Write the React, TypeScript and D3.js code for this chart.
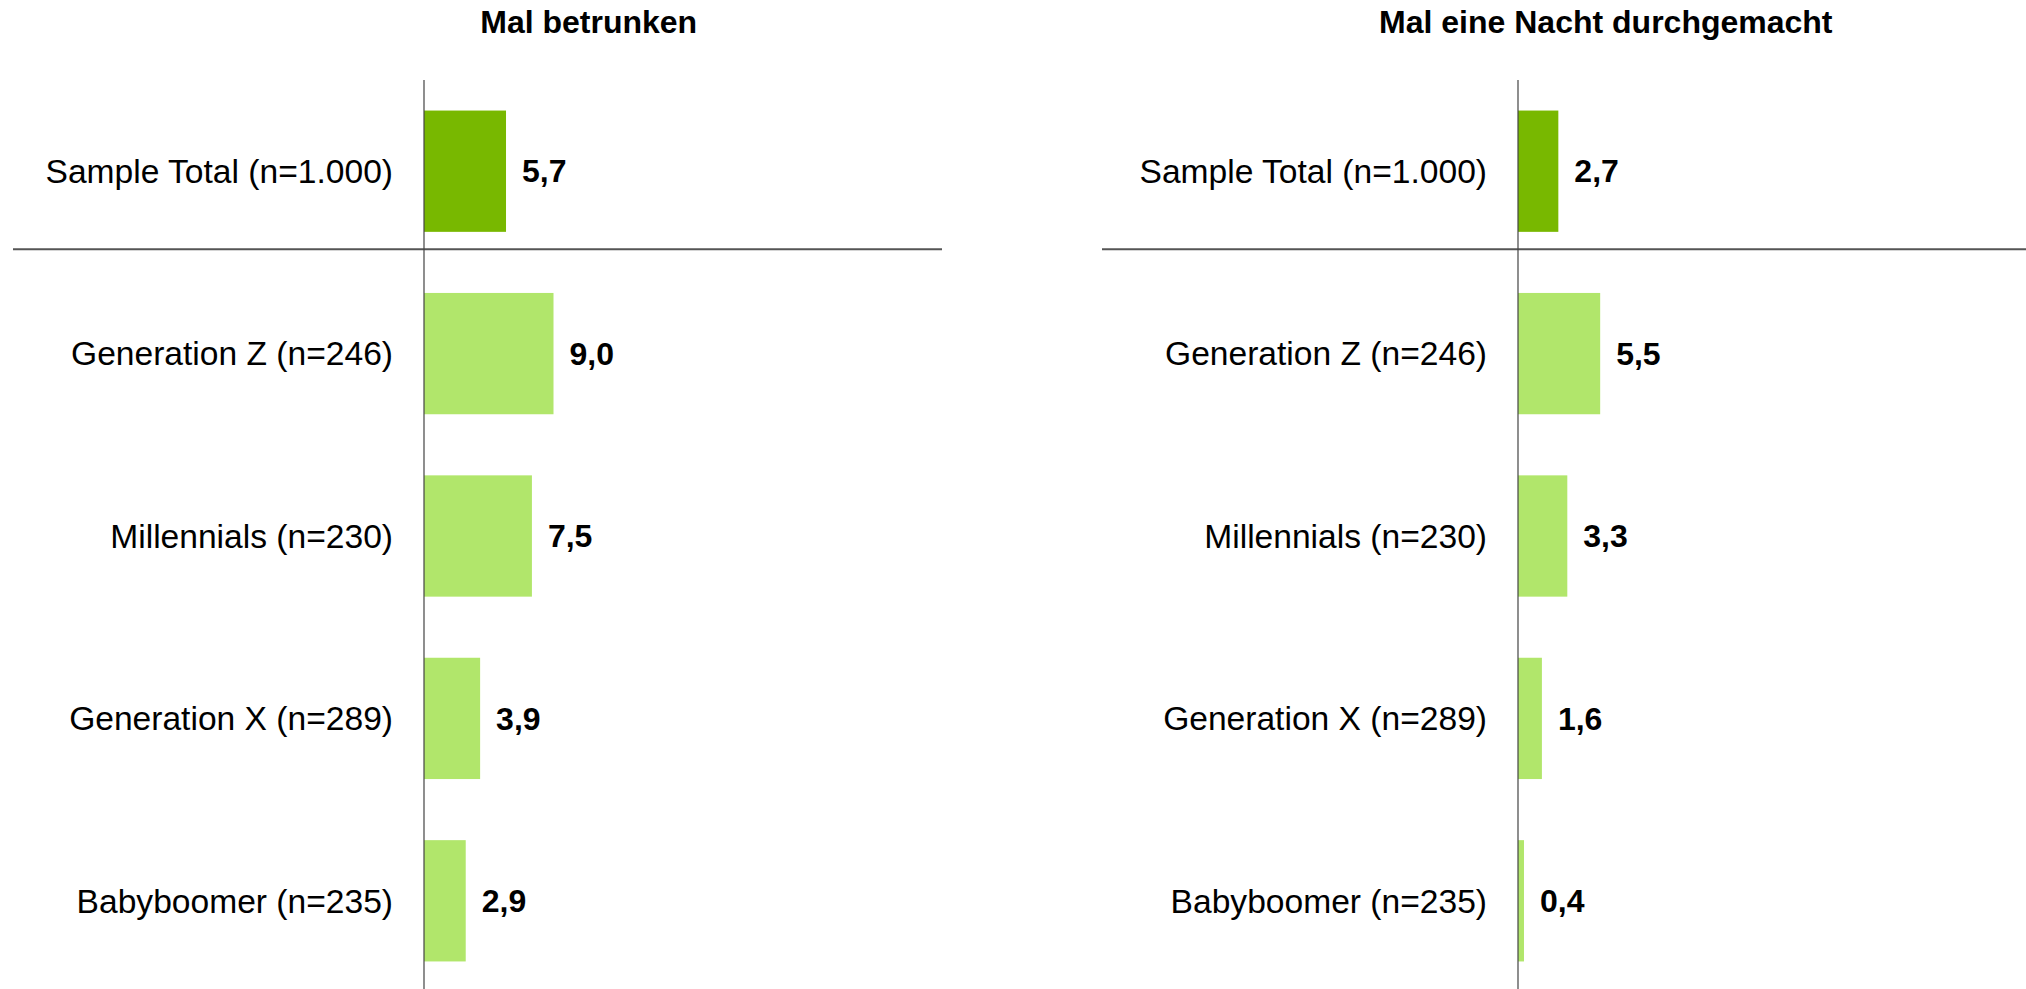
import React from "react";
import * as d3 from "d3";

const categories = [
  "Sample Total (n=1.000)",
  "Generation Z (n=246)",
  "Millennials (n=230)",
  "Generation X (n=289)",
  "Babyboomer (n=235)",
];
const titles = ["Mal betrunken", "Mal eine Nacht durchgemacht"];
const valuesBetrunken = [5.7, 9.0, 7.5, 3.9, 2.9];
const valuesNacht = [2.7, 5.5, 3.3, 1.6, 0.4];

const W = 2026;
const H = 989;
const FONT = "'Liberation Sans', Arial, Helvetica, sans-serif";
const DARK = "#78b800";
const LIGHT = "#b1e66b";

type PanelProps = {
  title: string;
  values: number[];
  axisX: number;
  xMax: number;
  xWidth: number;
  titleCx: number;
  sepX0: number;
  sepX1: number;
};

function Panel({ title, values, axisX, xMax, xWidth, titleCx, sepX0, sepX1 }: PanelProps) {
  const x = d3.scaleLinear().domain([0, xMax]).range([axisX, axisX + xWidth]);
  const y = d3
    .scaleBand<string>()
    .domain(categories)
    .range([80, 992])
    .paddingInner(0.335)
    .paddingOuter(0.1675);
  const bw = y.bandwidth();
  const sepY = (y(categories[0]) as number) + bw + 17.5;
  return (
    <g>
      <text x={titleCx} y={33} textAnchor="middle" fontFamily={FONT} fontWeight="bold" fontSize={32} fill="#000">
        {title}
      </text>
      {categories.map((c, i) => {
        const yy = y(c) as number;
        const v = values[i];
        return (
          <g key={c}>
            <rect x={x(0)} y={yy} width={x(v) - x(0)} height={bw} fill={i === 0 ? DARK : LIGHT} />
            <text x={axisX - 31} y={yy + bw / 2} dy="0.35em" textAnchor="end" fontFamily={FONT} fontSize={33.6} fill="#000">
              {c}
            </text>
            <text x={x(v) + 16} y={yy + bw / 2} dy="0.35em" textAnchor="start" fontFamily={FONT} fontWeight="bold" fontSize={32} fill="#000">
              {d3.format(".1f")(v).replace(".", ",")}
            </text>
          </g>
        );
      })}
      <line x1={sepX0} x2={sepX1} y1={sepY} y2={sepY} stroke="#555" strokeWidth={2} />
      <line x1={axisX} x2={axisX} y1={80} y2={H} stroke="#444" strokeWidth={1.2} />
    </g>
  );
}

export default function App() {
  return (
    <svg width={W} height={H} style={{ position: "absolute", left: 0, top: 0, display: "block", background: "#fff" }}>
      <rect x={0} y={0} width={W} height={H} fill="#fff" />
      <Panel title={titles[0]} values={valuesBetrunken} axisX={424} xMax={36} xWidth={518} titleCx={588.7} sepX0={13} sepX1={942} />
      <Panel title={titles[1]} values={valuesNacht} axisX={1518} xMax={34} xWidth={508} titleCx={1605.8} sepX0={1102} sepX1={2026} />
    </svg>
  );
}
